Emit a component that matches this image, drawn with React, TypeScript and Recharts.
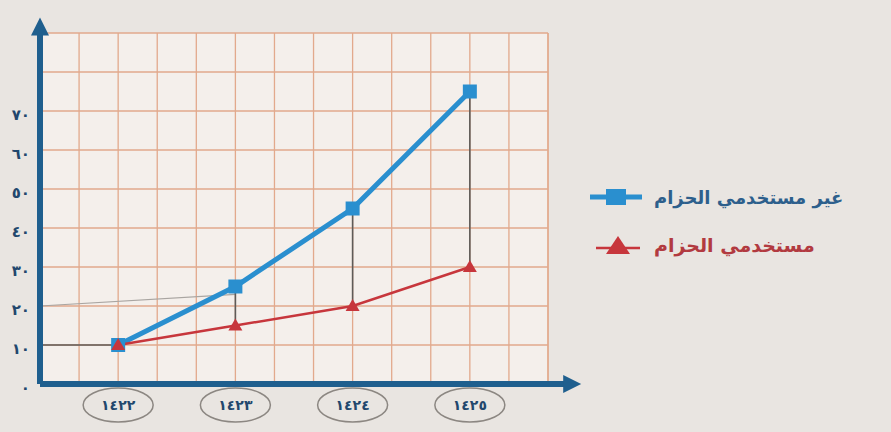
import React from 'react';
import { LineChart, Line, XAxis, YAxis, CartesianGrid, ReferenceLine } from 'recharts';

const years = [1422, 1423, 1424, 1425];
const nonUsers = [10, 25, 45, 75];
const users = [10, 15, 20, 30];
const yTicks = [0, 10, 20, 30, 40, 50, 60, 70, 80, 90];
const lastLabelledY = 70;
const seriesNames = ['غير مستخدمي الحزام', 'مستخدمي الحزام'];

const data = years.map((year, i) => ({ year, nonUsers: nonUsers[i], users: users[i] }));

const X_MIN = 1421 + 1 / 3;
const X_MAX = 1425 + 2 / 3;
// grid every third of a year
const xGrid: number[] = [];
for (let i = 0; i <= 13; i++) xGrid.push(X_MIN + i / 3);

const BLUE = '#2a8fcf';
const RED = '#c7363c';
const AXIS = '#1f5f8e';
const INK = '#22476d';
const PENCIL = '#5e5b58';
const FONT = '"DejaVu Sans", sans-serif';

const toArabic = (n: number) => String(n).replace(/\d/g, (d) => '٠١٢٣٤٥٦٧٨٩'[+d]);

const YTick = ({ x, y, payload }: any) => {
  if (payload.value > lastLabelledY) return <g />;
  return (
    <text x={x - 2} y={y + 4} textAnchor="end" dominantBaseline="central" fontFamily={FONT} fontSize={15} fontWeight="bold" fill={INK}>
      {toArabic(payload.value)}
    </text>
  );
};

const XTick = ({ x, y, payload }: any) => {
  const v = payload.value;
  if (Math.abs(v - Math.round(v)) > 0.01) return <g />;
  return (
    <g>
      <ellipse cx={x} cy={y + 13} rx={35} ry={17} fill="none" stroke="#8c8782" strokeWidth={1.5} />
      <text x={x} y={y + 13} textAnchor="middle" dominantBaseline="central" fontFamily={FONT} fontSize={14} fontWeight="bold" fill={INK}>
        {toArabic(Math.round(v))}
      </text>
    </g>
  );
};

const SquareDot = ({ cx, cy, index }: any) => (
  <rect key={`sq-${index}`} x={cx - 7} y={cy - 7} width={14} height={14} fill={BLUE} />
);

const TriangleDot = ({ cx, cy, index }: any) => (
  <polygon key={`tr-${index}`} points={`${cx},${cy - 7} ${cx + 7},${cy + 5} ${cx - 7},${cy + 5}`} fill={RED} />
);

const Arrow = (props: any) => {
  const { x1, y1, x2, y2 } = props;
  const horizontal = Math.abs(y2 - y1) < Math.abs(x2 - x1);
  const head = horizontal
    ? `${x2},${y2} ${x2 - 18},${y2 - 9} ${x2 - 18},${y2 + 9}`
    : `${x2},${y2} ${x2 - 9},${y2 + 18} ${x2 + 9},${y2 + 18}`;
  return (
    <g>
      <line x1={x1} y1={y1} x2={horizontal ? x2 - 10 : x2} y2={horizontal ? y2 : y2 + 10} stroke={AXIS} strokeWidth={6} />
      <polygon points={head} fill={AXIS} />
    </g>
  );
};

const ChartLegend = () => (
  <div style={{ position: 'absolute', left: 590, top: 177, fontFamily: FONT, fontWeight: 'bold' }}>
    <div style={{ display: 'flex', alignItems: 'center', height: 40 }}>
      <svg width={52} height={20}>
        <line x1={0} y1={10} x2={52} y2={10} stroke={BLUE} strokeWidth={5} />
        <rect x={16} y={2} width={20} height={16} fill={BLUE} />
      </svg>
      <span style={{ marginLeft: 12, fontSize: 18, color: '#2d5f8c', direction: 'rtl' }}>{seriesNames[0]}</span>
    </div>
    <div style={{ display: 'flex', alignItems: 'center', height: 40, marginTop: 8 }}>
      <svg width={52} height={20}>
        <line x1={6} y1={13} x2={50} y2={13} stroke={RED} strokeWidth={2.5} />
        <polygon points="28,1 40,19 16,19" fill={RED} />
      </svg>
      <span style={{ marginLeft: 12, fontSize: 19, color: '#b23a40', direction: 'rtl' }}>{seriesNames[1]}</span>
    </div>
  </div>
);

export default function App() {
  return (
    <div style={{ position: 'absolute', left: 0, top: 0, width: 891, height: 432, background: '#e9e5e1' }}>
      <LineChart width={891} height={432} data={data} margin={{ top: 33, right: 343, bottom: 0, left: 10 }}>
        <CartesianGrid fill="#f4efeb" stroke="#e2a98c" strokeWidth={1.3} />
        <XAxis
          dataKey="year"
          type="number"
          domain={[X_MIN, X_MAX]}
          allowDataOverflow
          ticks={xGrid}
          interval={0}
          axisLine={false}
          tickLine={false}
          height={48}
          tick={<XTick />}
        />
        <YAxis
          type="number"
          domain={[0, 90]}
          allowDataOverflow
          ticks={yTicks}
          interval={0}
          axisLine={false}
          tickLine={false}
          width={30}
          tick={<YTick />}
        />
        {/* pencil marks from the worksheet */}
        <ReferenceLine segment={[{ x: X_MIN, y: users[0] }, { x: years[0], y: users[0] }]} stroke={PENCIL} strokeWidth={1.6} />
        <ReferenceLine segment={[{ x: X_MIN, y: 20 }, { x: years[1], y: nonUsers[1] - 2 }]} stroke="#a9a5a1" strokeWidth={1.2} />
        {years.slice(1).map((yr, i) => (
          <ReferenceLine
            key={yr}
            segment={[{ x: yr, y: users[i + 1] }, { x: yr, y: nonUsers[i + 1] }]}
            stroke={PENCIL}
            strokeWidth={1.6}
          />
        ))}
        <ReferenceLine segment={[{ x: X_MIN, y: 0 }, { x: 1425.95, y: 0 }]} ifOverflow="visible" shape={Arrow} />
        <ReferenceLine segment={[{ x: X_MIN, y: 0 }, { x: X_MIN, y: 94 }]} ifOverflow="visible" shape={Arrow} />
        <Line dataKey="nonUsers" stroke={BLUE} strokeWidth={5} dot={SquareDot} activeDot={false} isAnimationActive={false} />
        <Line dataKey="users" stroke={RED} strokeWidth={2.5} dot={TriangleDot} activeDot={false} isAnimationActive={false} />
      </LineChart>
      <ChartLegend />
    </div>
  );
}
